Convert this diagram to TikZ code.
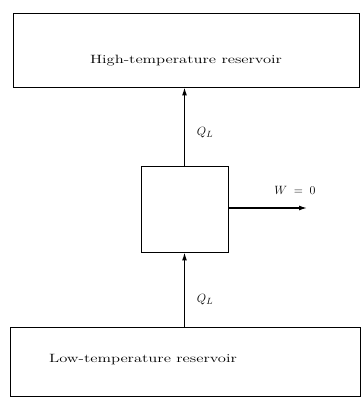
\documentclass[tikz,border=0pt]{standalone}
\usepackage{amsmath}
\usepackage{graphicx}
\usetikzlibrary{arrows.meta}

\newcommand{\widetext}[1]{\scalebox{1.38}[1]{#1}}

\begin{document}
\begin{tikzpicture}[x=1pt,y=-1pt,
    box/.style={draw,line width=0.9pt,inner sep=0pt},
    flow/.style={line width=1.3pt,-{Latex[length=8pt,width=5pt]}},
    lbl/.style={font=\fontsize{12}{14}\selectfont},
    sym/.style={font=\fontsize{13}{15}\selectfont}
]

\useasboundingbox (0,0) rectangle (362,398);

% Reservoirs
\node[box,minimum width=346pt,minimum height=74pt] (high) at (186,50) {};
\node[lbl] (hightext) at (186,61) {\widetext{High-temperature reservoir}};

\node[box,minimum width=350pt,minimum height=69pt] (low) at (185,361.5) {};
\node[lbl] (lowtext) at (143,360) {\widetext{Low-temperature reservoir}};

% Device
\node[box,minimum width=87pt,minimum height=86pt] (engine) at (184.5,209) {};

% Heat flows
\draw[flow] (engine.north) -- (engine.north |- high.south);
\draw[flow] (engine.south |- low.north) -- (engine.south);
\node[sym] (qtop) at (205,133) {$Q_L$};
\node[sym] (qbot) at (205,300) {$Q_L$};

% Work output
\coordinate (wend) at (307,208);
\draw[flow] (engine.east |- wend) -- (wend);
\node[sym] (work) at (295,190) {$W\;=\;0$};

\end{tikzpicture}
\end{document}
